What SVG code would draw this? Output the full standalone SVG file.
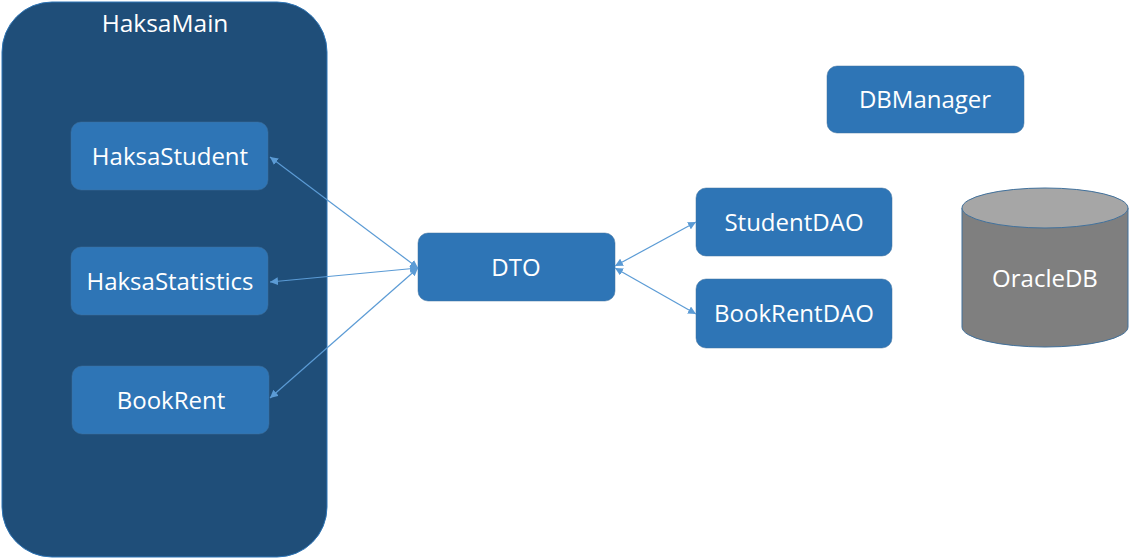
<svg xmlns="http://www.w3.org/2000/svg" width="1130" height="558" viewBox="0 0 1130 558">
<defs>
<style>
.box{fill:#2E75B6;stroke:#41719C;stroke-width:0.5}
.lbl{font-family:"Open Sans","Noto Sans",sans-serif;font-size:24px;fill:#FFFFFF;text-anchor:middle}
.conn{stroke:#5B9BD5;stroke-width:1.2;fill:none;marker-start:url(#ah);marker-end:url(#ah)}
</style>
<marker id="ah" viewBox="0 0 10 10" refX="10" refY="5" markerWidth="8" markerHeight="8" markerUnits="userSpaceOnUse" orient="auto-start-reverse">
<path d="M0,0 L10,5 L0,10 z" fill="#5B9BD5"/>
</marker>
</defs>
<rect width="1130" height="558" fill="#FFFFFF"/>
<g id="HaksaMain">
<rect x="2" y="2" width="325" height="555" rx="50" ry="50" fill="#1F4E79" stroke="#2E75B6" stroke-width="1"/>
<text class="lbl" x="165" y="32" style="font-size:24.5px">HaksaMain</text>
</g>
<g id="HaksaStudent">
<rect class="box" x="71" y="122" width="197" height="68" rx="10"/>
<text class="lbl" x="170" y="165">HaksaStudent</text>
</g>
<g id="HaksaStatistics">
<rect class="box" x="71" y="247" width="197" height="68" rx="10"/>
<text class="lbl" x="170" y="290">HaksaStatistics</text>
</g>
<g id="BookRent">
<rect class="box" x="72" y="366" width="197" height="68" rx="10"/>
<text class="lbl" x="171" y="409">BookRent</text>
</g>
<g id="DTO">
<rect class="box" x="418" y="233" width="197" height="68" rx="10"/>
<text class="lbl" x="516" y="276">DTO</text>
</g>
<g id="StudentDAO">
<rect class="box" x="696" y="188" width="196" height="68" rx="10"/>
<text class="lbl" x="794" y="231">StudentDAO</text>
</g>
<g id="BookRentDAO">
<rect class="box" x="696" y="279" width="196" height="69" rx="10"/>
<text class="lbl" x="794" y="322">BookRentDAO</text>
</g>
<g id="DBManager">
<rect class="box" x="827" y="66" width="197" height="67" rx="10"/>
<text class="lbl" x="925" y="108">DBManager</text>
</g>
<g id="OracleDB">
<path d="M962,208 L962,327 A83,20 0 0 0 1128,327 L1128,208 Z" fill="#7F7F7F" stroke="#41719C" stroke-width="1"/>
<ellipse cx="1045" cy="208" rx="83" ry="20" fill="#A6A6A6" stroke="#41719C" stroke-width="1"/>
<text class="lbl" x="1045" y="287">OracleDB</text>
</g>
<g id="connectors">
<line class="conn" x1="418" y1="268" x2="270" y2="157"/>
<line class="conn" x1="418" y1="268" x2="270" y2="282"/>
<line class="conn" x1="418" y1="268" x2="270" y2="398"/>
<line class="conn" x1="615" y1="266" x2="696" y2="222"/>
<line class="conn" x1="615" y1="268" x2="696" y2="314"/>
</g>
</svg>
